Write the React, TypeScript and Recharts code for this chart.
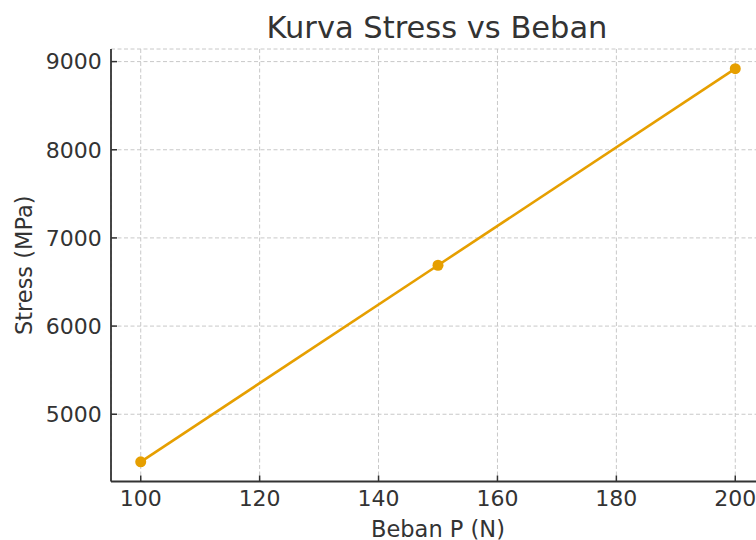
import React from "react";
import { LineChart, Line, XAxis, YAxis, CartesianGrid } from "recharts";

const bebanP = [100, 150, 200];
const stress = [4460, 6690, 8920];
const xTicks = [100, 120, 140, 160, 180, 200];
const yTicks = [5000, 6000, 7000, 8000, 9000];
const title = "Kurva Stress vs Beban";
const xLabel = "Beban P (N)";
const yLabel = "Stress (MPa)";

const data = bebanP.map((p, i) => ({ p, s: stress[i] }));

const FONT = "'DejaVu Sans', sans-serif";
const TEXT = "#333333";
const AXIS = "#333333";
const LINE = "#E69F00";

const XLabelContent = (props: any) => {
  const vb = props.viewBox || {};
  return (
    <text x={vb.x + vb.width / 2} y={vb.y + 55} textAnchor="middle" fontFamily={FONT} fontSize={22.5} fill={TEXT}>
      {xLabel}
    </text>
  );
};

const YLabelContent = (props: any) => {
  const vb = props.viewBox || {};
  const cx = 24;
  const cy = vb.y + vb.height / 2;
  return (
    <text
      x={cx}
      y={cy}
      transform={`rotate(-90, ${cx}, ${cy})`}
      textAnchor="middle"
      dominantBaseline="central"
      fontFamily={FONT}
      fontSize={22.5}
      fill={TEXT}
    >
      {yLabel}
    </text>
  );
};

export default function App() {
  return (
    <div style={{ position: "absolute", left: 0, top: 0, width: 756, height: 540, overflow: "hidden", background: "#fff" }}>
      <div
        style={{
          position: "absolute",
          left: 0,
          top: 0,
          width: 874,
          textAlign: "center",
          fontFamily: FONT,
          fontSize: 30.5,
          color: TEXT,
          lineHeight: "30px",
          paddingTop: 13,
        }}
      >
        {title}
      </div>
      <LineChart width={770} height={540} data={data} margin={{ top: 49, right: 5, bottom: 0, left: 0 }}>
        <CartesianGrid stroke="#c8c8c8" strokeDasharray="4 2.5" strokeWidth={1} />
        <XAxis
          dataKey="p"
          type="number"
          domain={[95, 205]}
          ticks={xTicks}
          allowDataOverflow
          height={58.5}
          tickSize={-6}
          tickMargin={14.5}
          stroke={AXIS}
          axisLine={{ stroke: AXIS, strokeWidth: 1.8 }}
          tickLine={{ stroke: AXIS, strokeWidth: 1.5 }}
          tick={{ fill: TEXT, fontSize: 22, fontFamily: FONT }}
          label={<XLabelContent />}
        />
        <YAxis
          dataKey="s"
          type="number"
          domain={[4237, 9143]}
          ticks={yTicks}
          allowDataOverflow
          width={111}
          tickSize={-6}
          tickMargin={15.3}
          stroke={AXIS}
          axisLine={{ stroke: AXIS, strokeWidth: 1.8 }}
          tickLine={{ stroke: AXIS, strokeWidth: 1.5 }}
          tick={{ fill: TEXT, fontSize: 22, fontFamily: FONT }}
          label={<YLabelContent />}
        />
        <Line
          type="linear"
          dataKey="s"
          stroke={LINE}
          strokeWidth={2.6}
          dot={{ r: 5.5, fill: LINE, stroke: LINE, strokeWidth: 0 }}
          isAnimationActive={false}
        />
      </LineChart>
    </div>
  );
}
